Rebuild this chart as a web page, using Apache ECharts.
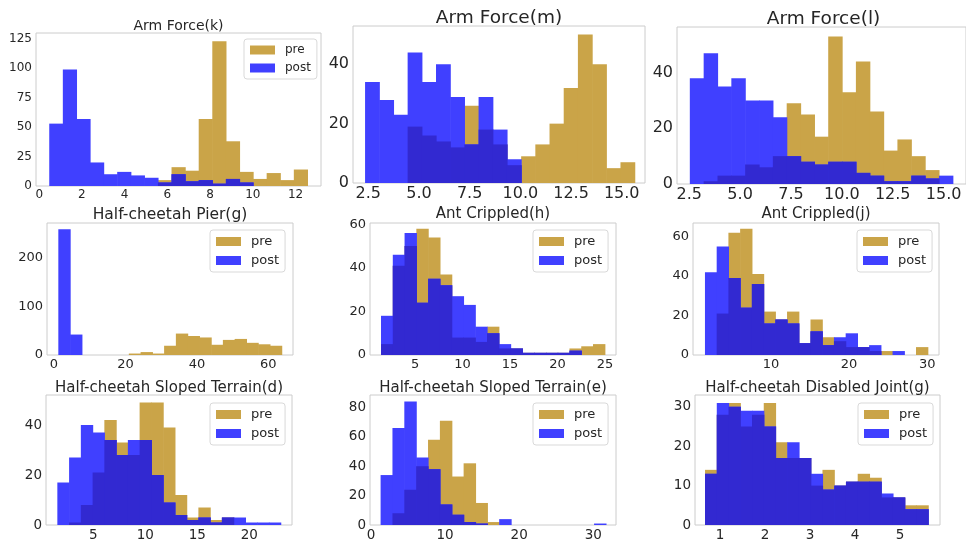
<!DOCTYPE html>
<html>
<head>
<meta charset="UTF-8">
<title>pre / post histograms</title>
<script type="text/javascript" src="https://cdn.jsdelivr.net/npm/echarts@6/dist/echarts.min.js"></script>
</head>
<body style="margin:0;background:#fff;">
<div id="main" style="width:966px;height:542px;"></div>
<script type="text/javascript">
// panel titles
var titles = ['Arm Force(k)', 'Arm Force(m)', 'Arm Force(l)',
    'Half-cheetah Pier(g)', 'Ant Crippled(h)', 'Ant Crippled(j)',
    'Half-cheetah Sloped Terrain(d)', 'Half-cheetah Sloped Terrain(e)', 'Half-cheetah Disabled Joint(g)'];

// shared bins per panel: first edge and bin width (19 bins each)
var binStart = [0.47, 2.34, 2.53, 1.21, 1.42, 1.56, 1.54, 1.3, 0.667];
var binWidth = [0.636, 0.70, 0.68, 3.29, 1.24, 1.5, 1.13, 1.6, 0.261];

// counts
var armK_pre   = [0, 0, 0, 0, 0, 0, 0, 0, 5, 16, 13, 57, 123, 38, 12, 6, 11, 5, 14];
var armK_post  = [53, 99, 57, 20, 10, 12, 9, 7, 3, 10, 4, 5, 2, 6, 3, 0, 0, 0, 0];
var armM_pre   = [0, 0, 0, 19, 16, 14, 12, 26, 18, 13, 6, 9, 13, 20, 32, 50, 40, 5, 7];
var armM_post  = [34, 28, 23, 44, 34, 40, 29, 13, 29, 18, 8, 0, 0, 0, 0, 0, 0, 0, 0];
var armL_pre   = [0, 1, 3, 3, 7, 6, 10, 29, 25, 17, 53, 33, 44, 26, 12, 16, 10, 5, 0];
var armL_post  = [38, 47, 35, 38, 30, 30, 24, 10, 8, 7, 8, 8, 4, 3, 1, 1, 3, 2, 3];
var pierG_pre  = [0, 0, 0, 0, 0, 0, 3, 6, 3, 19, 44, 39, 36, 21, 31, 33, 25, 22, 19];
var pierG_post = [258, 42, 0, 0, 0, 0, 0, 0, 0, 0, 0, 0, 0, 0, 0, 0, 0, 0, 0];
var antH_pre   = [5, 41, 50, 58, 54, 37, 8, 8, 6, 13, 3, 3, 1, 1, 1, 1, 3, 4, 5];
var antH_post  = [18, 46, 56, 24, 35, 32, 27, 23, 13, 10, 5, 3, 1, 1, 1, 1, 2, 0, 0];
var antJ_pre   = [0, 21, 62, 64, 41, 22, 18, 22, 6, 18, 9, 7, 4, 4, 2, 2, 0, 0, 4];
var antJ_post  = [42, 55, 39, 24, 36, 16, 18, 16, 6, 12, 5, 9, 11, 4, 5, 0, 2, 0, 0];
var slopeD_pre  = [0, 1, 8, 21, 42, 33, 28, 49, 49, 39, 12, 3, 7, 2, 3, 0, 0, 0, 0];
var slopeD_post = [17, 27, 40, 37, 34, 28, 34, 34, 20, 9, 4, 2, 3, 1, 3, 3, 1, 1, 1];
var slopeE_pre  = [0, 8, 24, 40, 58, 71, 33, 42, 15, 2, 0, 0, 0, 0, 0, 0, 0, 0, 0];
var slopeE_post = [34, 66, 84, 46, 38, 14, 7, 2, 1, 0, 4, 0, 0, 0, 0, 0, 0, 0, 1];
var jointG_pre  = [14, 28, 31, 25, 28, 31, 21, 17, 17, 10, 14, 10, 11, 13, 12, 7, 7, 5, 5];
var jointG_post = [13, 31, 30, 29, 29, 25, 17, 21, 17, 13, 9, 10, 11, 11, 11, 8, 7, 4, 4];

var preCounts  = [armK_pre, armM_pre, armL_pre, pierG_pre, antH_pre, antJ_pre, slopeD_pre, slopeE_pre, jointG_pre];
var postCounts = [armK_post, armM_post, armL_post, pierG_post, antH_post, antJ_post, slopeD_post, slopeE_post, jointG_post];

// tick labels
var xTicks = [[0, 2, 4, 6, 8, 10, 12], [2.5, 5, 7.5, 10, 12.5, 15], [2.5, 5, 7.5, 10, 12.5, 15],
    [0, 20, 40, 60], [5, 10, 15, 20, 25], [10, 20, 30],
    [5, 10, 15, 20], [0, 10, 20, 30], [1, 2, 3, 4, 5]];
var yTicks = [[0, 25, 50, 75, 100, 125], [0, 20, 40], [0, 20, 40],
    [0, 100, 200], [0, 20, 40, 60], [0, 20, 40, 60],
    [0, 20, 40], [0, 20, 40, 60, 80], [0, 10, 20, 30]];
var xDecimals = [0, 1, 1, 0, 0, 0, 0, 0, 0];

// layout of each subplot (pixels) and axis ranges
var panels = [
    { left: 36,  top: 33,  width: 285, height: 153, xMin: -0.15, xMax: 13.19, yMax: 130,  tFs: 14,   tTop: 19,  fs: 12,   legend: [244, 39, 12] },
    { left: 353, top: 26,  width: 292, height: 157, xMin: 1.745, xMax: 16.15, yMax: 52.9, tFs: 18.5, tTop: 9,   fs: 16 },
    { left: 677, top: 27,  width: 293, height: 157, xMin: 1.90,  xMax: 16.10, yMax: 56.4, tFs: 18.5, tTop: 10,  fs: 16 },
    { left: 47,  top: 223, width: 246, height: 132, xMin: -1.96, xMax: 66.9,  yMax: 271,  tFs: 15.5, tTop: 207, fs: 13,   legend: [210, 230, 13] },
    { left: 370, top: 223, width: 246, height: 132, xMin: 0.26,  xMax: 26.16, yMax: 60.6, tFs: 15,   tTop: 207, fs: 13,   legend: [533, 230, 13] },
    { left: 693, top: 223, width: 246, height: 132, xMin: 0.03,  xMax: 31.5,  yMax: 66.9, tFs: 15,   tTop: 207, fs: 13,   legend: [857, 230, 13] },
    { left: 46,  top: 395, width: 246, height: 133, xMin: 0.45,  xMax: 24.1,  yMax: 52,   tFs: 15,   tTop: 381, fs: 13.5, legend: [210, 403, 13] },
    { left: 370, top: 395, width: 246, height: 133, xMin: -0.13, xMax: 33.06, yMax: 88.5, tFs: 15,   tTop: 381, fs: 13.5, legend: [533, 403, 13] },
    { left: 695, top: 395, width: 245, height: 133, xMin: 0.444, xMax: 5.889, yMax: 33,   tFs: 15,   tTop: 381, fs: 13.5, legend: [858, 403, 13] }
];

// alpha 0.75 darkgoldenrod / blue, flattened to opaque so touching bins show no seams
var PRE_COLOR = '#caa448';
var POST_COLOR = '#4040ff';
var BOTH_COLOR = '#3229d1';
var TEXT = '#262626';
var FONT = 'DejaVu Sans';

function toBins(start, width, counts) {
    return counts.map(function (c, i) {
        return [start + i * width, start + (i + 1) * width, c];
    });
}

function renderBar(params, api) {
    if (!api.value(2)) return null;
    var a = api.coord([api.value(0), api.value(2)]);
    var b = api.coord([api.value(1), 0]);
    return {
        type: 'rect',
        shape: { x: a[0], y: a[1], width: b[0] - a[0] + 0.6, height: b[1] - a[1] },
        style: api.style()
    };
}

var grid = [], xAxis = [], yAxis = [], title = [], legend = [], series = [];

panels.forEach(function (p, i) {
    grid.push({ left: p.left, top: p.top, width: p.width, height: p.height,
        show: true, borderColor: '#cccccc', borderWidth: 1 });
    xAxis.push({
        type: 'value', gridIndex: i, min: p.xMin, max: p.xMax,
        axisLine: { show: false }, axisTick: { show: false }, splitLine: { show: false },
        axisLabel: { customValues: xTicks[i], margin: 3, fontSize: p.fs, color: TEXT, fontFamily: FONT,
            formatter: (function (d) { return function (v) { return v.toFixed(d); }; })(xDecimals[i]) }
    });
    yAxis.push({
        type: 'value', gridIndex: i, min: 0, max: p.yMax,
        axisLine: { show: false }, axisTick: { show: false }, splitLine: { show: false },
        axisLabel: { customValues: yTicks[i], margin: 4, fontSize: p.fs, color: TEXT, fontFamily: FONT }
    });
    title.push({
        text: titles[i], left: p.left + p.width / 2, top: p.tTop, textAlign: 'center', padding: 0,
        textStyle: { fontSize: p.tFs, fontWeight: 'normal', color: TEXT, fontFamily: FONT }
    });
    if (p.legend) {
        legend.push({
            data: ['pre', 'post'], orient: 'vertical', left: p.legend[0], top: p.legend[1],
            icon: 'rect', itemWidth: 25, itemHeight: 9, itemGap: 6, selectedMode: false,
            padding: [5, 6, 5, 6], backgroundColor: '#fff', borderColor: '#d9d9d9', borderWidth: 1, borderRadius: 3,
            textStyle: { fontSize: p.legend[2], color: TEXT, fontFamily: FONT, padding: [0, 0, 0, 5] }
        });
    }
    var both = preCounts[i].map(function (v, k) { return Math.min(v, postCounts[i][k]); });
    series.push({
        type: 'custom', name: 'pre', xAxisIndex: i, yAxisIndex: i,
        renderItem: renderBar, itemStyle: { color: PRE_COLOR },
        encode: { x: [0, 1], y: 2 }, data: toBins(binStart[i], binWidth[i], preCounts[i])
    });
    series.push({
        type: 'custom', name: 'post', xAxisIndex: i, yAxisIndex: i,
        renderItem: renderBar, itemStyle: { color: POST_COLOR },
        encode: { x: [0, 1], y: 2 }, data: toBins(binStart[i], binWidth[i], postCounts[i])
    });
    series.push({
        type: 'custom', name: 'overlap', xAxisIndex: i, yAxisIndex: i,
        renderItem: renderBar, itemStyle: { color: BOTH_COLOR },
        encode: { x: [0, 1], y: 2 }, data: toBins(binStart[i], binWidth[i], both)
    });
});

var myChart = echarts.init(document.getElementById('main'));
myChart.setOption({
    animation: false,
    backgroundColor: '#fff',
    title: title,
    legend: legend,
    grid: grid,
    xAxis: xAxis,
    yAxis: yAxis,
    series: series
});
</script>
</body>
</html>
